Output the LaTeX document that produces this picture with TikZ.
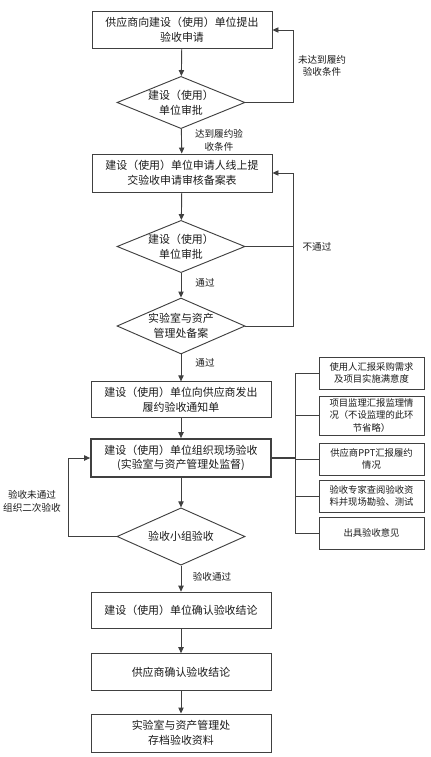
\documentclass[tikz,border=0pt]{standalone}
\usepackage{fontspec}
\setmainfont{Noto Sans CJK SC}
\usetikzlibrary{shapes.geometric,arrows.meta}
\definecolor{lncol}{HTML}{404040}
\definecolor{txcol}{HTML}{1A1A1A}

\begin{document}
\begin{tikzpicture}[x=0.75pt,y=-0.75pt,
    box/.style={draw=lncol, line width=0.7pt, text=txcol, minimum width=135pt, minimum height=27.5pt, inner sep=1pt, align=center, font=\fontsize{8.2}{11}\selectfont},
    cond/.style={draw=lncol, line width=0.7pt, text=txcol, diamond, aspect=2.4, inner sep=0pt, minimum width=96pt, minimum height=38.5pt, align=center, font=\fontsize{8.2}{11}\selectfont},
    side/.style={draw=lncol, line width=0.7pt, text=txcol, minimum width=78.75pt, minimum height=24pt, inner sep=1pt, align=center, font=\fontsize{7}{9.2}\selectfont},
    lbl/.style={text=txcol, inner sep=0pt, align=center, font=\fontsize{7.2}{9.5}\selectfont},
    arr/.style={draw=lncol, line width=0.7pt, -{Triangle[length=4.5pt,width=4pt]}},
    ln/.style={draw=lncol, line width=0.7pt}]
    \useasboundingbox (0,0) rectangle (430,757);

    % main column
    \node[box] (apply) at (182,30) {供应商向建设（使用）单位提出\\验收申请};
    \node[cond] (check1) at (181,102.5) {建设（使用）\\单位审批};
    \node[box, minimum height=28.5pt] (submit) at (182,173) {建设（使用）单位申请人线上提\\交验收申请审核备案表};
    \node[cond] (check2) at (181,246.5) {建设（使用）\\单位审批};
    \node[cond, minimum height=42pt] (record) at (181,326) {实验室与资产\\管理处备案};
    \node[box, minimum height=26.5pt] (notice) at (181,399.5) {建设（使用）单位向供应商发出\\履约验收通知单};
    \node[box, line width=1.3pt, minimum height=28.5pt] (onsite) at (181,458) {建设（使用）单位组织现场验收\\(实验室与资产管理处监督)};
    \node[cond, minimum height=43pt] (group) at (181,536.5) {验收小组验收};
    \node[box] (confirm) at (181,610.5) {建设（使用）单位确认验收结论};
    \node[box] (supconf) at (181,672) {供应商确认验收结论};
    \node[box, minimum height=28.5pt] (archive) at (181,733) {实验室与资产管理处\\存档验收资料};

    % side column
    \node[side] (s1) at (371.5,373) {使用人汇报采购需求\\及项目实施满意度};
    \node[side, minimum height=29.25pt] (s2) at (371.5,415.5) {项目监理汇报监理情\\况（不设监理的此环\\节省略）};
    \node[side] (s3) at (371.5,459) {供应商PPT汇报履约\\情况};
    \node[side] (s4) at (371.5,496) {验收专家查阅验收资\\料并现场勘验、测试};
    \node[side] (s5) at (371.5,533) {出具验收意见};

    \coordinate (fb) at (293,0);
    \coordinate (bus) at (295,458);
    \coordinate (back) at (68,0);

    % flow
    \draw[arr] (apply) -- (check1);
    \draw[arr] (check1.east) -- (check1.east -| fb) |- (apply.east);
    \node[lbl] (notmet) at (322,66) {未达到履约\\验收条件};
    \draw[arr] (check1) -- (submit);
    \node[lbl] (met) at (219,140) {达到履约验\\收条件};
    \draw[arr] (submit) -- (check2);
    \draw[ln] (check2.east) -- (check2.east -| fb);
    \node[lbl] (nopass) at (317,247) {不通过};
    \draw[arr] (record.east) -- (record.east -| fb) |- (submit.east);
    \draw[arr] (check2) -- (record);
    \node[lbl] (pass1) at (205,283) {通过};
    \draw[arr] (record) -- (notice);
    \node[lbl] (pass2) at (205,363) {通过};
    \draw[arr] (notice) -- (onsite);
    \draw[arr] (onsite) -- (group);
    \draw[arr] (group.west) -- (group.west -| back) |- (onsite.west);
    \node[lbl] (again) at (32,501) {验收未通过\\组织二次验收};
    \draw[arr] (group) -- (confirm);
    \node[lbl] (pass3) at (212,577) {验收通过};
    \draw[arr] (confirm) -- (supconf);
    \draw[arr] (supconf) -- (archive);

    % bus to side boxes
    \draw[draw=lncol, line width=1.5pt] (onsite.east) -- (bus);
    \draw[ln] (s1.west -| bus) -- (s5.west -| bus);
    \foreach \s in {s1,s2,s3,s4,s5}
        \draw[ln] (\s.west -| bus) -- (\s.west);
\end{tikzpicture}
\end{document}
